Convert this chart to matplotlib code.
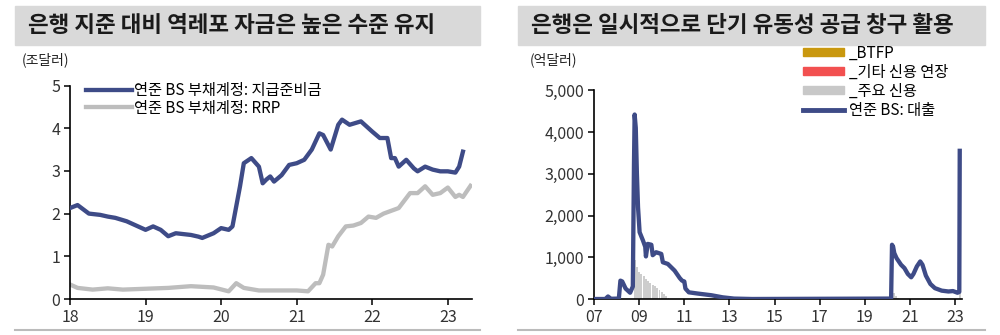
import matplotlib
matplotlib.use('Agg')
import matplotlib.pyplot as plt
from matplotlib.patches import Patch
from matplotlib.lines import Line2D
from matplotlib.ticker import FuncFormatter

plt.rcParams['font.family'] = ['Noto Sans CJK KR', 'DejaVu Sans']

# ---- left panel data (trillion USD) ----
res_t = [2018.0, 2018.1, 2018.25, 2018.4, 2018.5, 2018.6, 2018.75, 2018.85, 2019.0, 2019.1,
         2019.2, 2019.3, 2019.4, 2019.6, 2019.7, 2019.75, 2019.9, 2020.0, 2020.1, 2020.15,
         2020.25, 2020.3, 2020.4, 2020.5, 2020.55, 2020.6, 2020.65, 2020.7, 2020.8, 2020.9,
         2021.0, 2021.1, 2021.2, 2021.3, 2021.35, 2021.45, 2021.55, 2021.6, 2021.7, 2021.85,
         2022.0, 2022.1, 2022.2, 2022.25, 2022.3, 2022.35, 2022.45, 2022.55, 2022.6, 2022.7,
         2022.8, 2022.9, 2023.0, 2023.1, 2023.15, 2023.2]
reserves = [2.13, 2.2, 2.0, 1.97, 1.93, 1.9, 1.82, 1.74, 1.62, 1.7,
            1.62, 1.47, 1.54, 1.5, 1.46, 1.43, 1.54, 1.66, 1.62, 1.7,
            2.64, 3.18, 3.3, 3.1, 2.71, 2.8, 2.87, 2.75, 2.9, 3.14,
            3.18, 3.26, 3.5, 3.88, 3.84, 3.5, 4.08, 4.2, 4.08, 4.16,
            3.92, 3.77, 3.77, 3.3, 3.3, 3.1, 3.26, 3.06, 2.99, 3.1,
            3.03, 2.99, 2.99, 2.96, 3.1, 3.45]

rrp_t = [2018.0, 2018.1, 2018.3, 2018.5, 2018.7, 2019.0, 2019.3, 2019.6, 2019.9, 2020.1,
         2020.2, 2020.3, 2020.5, 2020.8, 2021.0, 2021.15, 2021.25, 2021.3, 2021.35, 2021.42,
         2021.47, 2021.55, 2021.65, 2021.75, 2021.85, 2021.95, 2022.05, 2022.15, 2022.35, 2022.5,
         2022.6, 2022.7, 2022.8, 2022.9, 2023.0, 2023.1, 2023.15, 2023.2, 2023.3]
rrp = [0.34, 0.26, 0.22, 0.25, 0.22, 0.24, 0.26, 0.3, 0.27, 0.18,
       0.37, 0.26, 0.2, 0.2, 0.2, 0.18, 0.37, 0.37, 0.57, 1.27,
       1.23, 1.47, 1.7, 1.72, 1.78, 1.93, 1.9, 2.0, 2.13, 2.48,
       2.48, 2.64, 2.44, 2.48, 2.61, 2.39, 2.44, 2.39, 2.65]

# ---- right panel data (100 million USD) ----
loan_t = [2007.0, 2007.5, 2007.62, 2007.75, 2008.1, 2008.17, 2008.25, 2008.4, 2008.6, 2008.72,
          2008.77, 2008.8, 2008.85, 2008.9, 2008.95, 2009.02, 2009.17, 2009.27, 2009.3, 2009.38,
          2009.54, 2009.6, 2009.75, 2009.98, 2010.05, 2010.27, 2010.57, 2010.8, 2010.9, 2011.0,
          2011.05, 2011.2, 2011.6, 2012.2, 2012.7, 2013.2, 2014.0, 2020.16,
          2020.2, 2020.25, 2020.3, 2020.4, 2020.5, 2020.6, 2020.75, 2020.9, 2021.05, 2021.15,
          2021.3, 2021.45, 2021.55, 2021.7, 2021.9, 2022.1, 2022.4, 2022.7, 2022.9, 2023.1,
          2023.18, 2023.2]
loans = [0, 0, 60, 5, 10, 440, 420, 250, 150, 300,
         3200, 4420, 4100, 3000, 2200, 1600, 1400, 1250, 1020, 1320,
         1300, 1050, 1120, 1080, 880, 840, 680, 500, 440, 420,
         250, 160, 130, 90, 40, 10, 0, 10,
         1300, 1250, 1100, 980, 900, 820, 740, 600, 520, 600,
         780, 900, 820, 560, 360, 260, 200, 180, 190, 150,
         170, 3550]

primary_t = [2008.81, 2008.9, 2009.0, 2009.1, 2009.2, 2009.3, 2009.4, 2009.5, 2009.6, 2009.7,
             2009.8, 2009.9, 2010.0, 2010.1, 2010.2, 2010.3,
             2020.2, 2020.28, 2020.37, 2020.45, 2023.2]
primary = [930, 760, 640, 600, 540, 470, 420, 380, 340, 300,
           270, 210, 170, 120, 60, 15,
           300, 150, 60, 20, 1100]
other_t = [2023.2]
other = [1700]
btfp_t = [2023.2]
btfp = [640]

navy = '#3e4b87'
lgrey = '#bdbdbd'

fig = plt.figure(figsize=(10, 3.35), dpi=100)

# title bars
for x0, w, txt in [(0.015, 0.465, '은행 지준 대비 역레포 자금은 높은 수준 유지'),
                   (0.518, 0.467, '은행은 일시적으로 단기 유동성 공급 창구 활용')]:
    fig.patches.append(plt.Rectangle((x0, 1 - 45 / 335), w, 39 / 335, transform=fig.transFigure,
                                     color='#d9d9d9', zorder=0))
    fig.text(x0 + 0.013, 1 - 25.5 / 335, txt, fontsize=16.2, fontweight='bold',
             color='#1a1a1a', va='center', ha='left')
    fig.add_artist(Line2D([x0, x0 + w], [1 - 330 / 335] * 2, color='#bbbbbb', lw=1.5,
                          transform=fig.transFigure))

fig.text(0.022, 1 - 60 / 335, '(조달러)', fontsize=10, color='#222222', va='center')
fig.text(0.530, 1 - 60 / 335, '(억달러)', fontsize=10, color='#222222', va='center')


def style(ax):
    for s in ['top', 'right']:
        ax.spines[s].set_visible(False)
    for s in ['left', 'bottom']:
        ax.spines[s].set_linewidth(1.2)
        ax.spines[s].set_color('black')
    ax.tick_params(direction='out', length=4, width=1.1, labelsize=11.5, colors='black',
                   labelcolor='#333333', pad=3)


# left
ax1 = fig.add_axes([0.070, 1 - 299 / 335, 0.402, (299 - 85.5) / 335])
ax1.plot(res_t, reserves, color=navy, lw=3.1, label='연준 BS 부채계정: 지급준비금', zorder=3)
ax1.plot(rrp_t, rrp, color=lgrey, lw=3.1, label='연준 BS 부채계정: RRP', zorder=2)
ax1.set_xlim(2018, 2023.32)
ax1.set_ylim(0, 5)
ax1.set_yticks([0, 1, 2, 3, 4, 5])
ax1.set_xticks([2018, 2019, 2020, 2021, 2022, 2023])
ax1.set_xticklabels(['18', '19', '20', '21', '22', '23'])
style(ax1)
ax1.legend(loc='upper left', bbox_to_anchor=(0.025, 1.045), frameon=False, fontsize=11,
           handlelength=3.0, handletextpad=0.1, labelspacing=0.05, borderaxespad=0)

# right
ax2 = fig.add_axes([0.594, 1 - 299 / 335, 0.368, (299 - 90.3) / 335])
ax2.bar(btfp_t, btfp, width=0.04, bottom=[p + o for p, o in zip(primary[-1:], other)],
        color='#c9980f', label='_BTFP', zorder=1)
ax2.bar(other_t, other, width=0.04, bottom=primary[-1:], color='#f25050',
        label='_기타 신용 연장', zorder=1)
ax2.bar(primary_t, primary, width=0.085, color='#cdcdcd', label='_주요 신용', zorder=1)
ax2.plot(loan_t, loans, color=navy, lw=3.1, label='연준 BS: 대출', zorder=3)
ax2.set_xlim(2007, 2023.3)
ax2.set_ylim(0, 5000)
ax2.set_yticks(range(0, 5001, 1000))
ax2.yaxis.set_major_formatter(FuncFormatter(lambda v, p: f'{int(v):,}'))
ax2.set_xticks(range(2007, 2024, 2))
ax2.set_xticklabels([f'{y % 100:02d}' for y in range(2007, 2024, 2)])
style(ax2)

handles = [Patch(color='#c9980f'), Patch(color='#f25050'), Patch(color='#c8c8c8'),
           Line2D([0], [0], color=navy, lw=3.5)]
labels = ['_BTFP', '_기타 신용 연장', '_주요 신용', '연준 BS: 대출']
fig.legend(handles, labels, loc='upper left', bbox_to_anchor=(0.803, 1 - 44.5 / 335),
           frameon=False, fontsize=11, handlelength=2.7, handleheight=0.45,
           handletextpad=0.3, labelspacing=0.14, borderaxespad=0, borderpad=0)

fig.savefig('out.png', dpi=100)
